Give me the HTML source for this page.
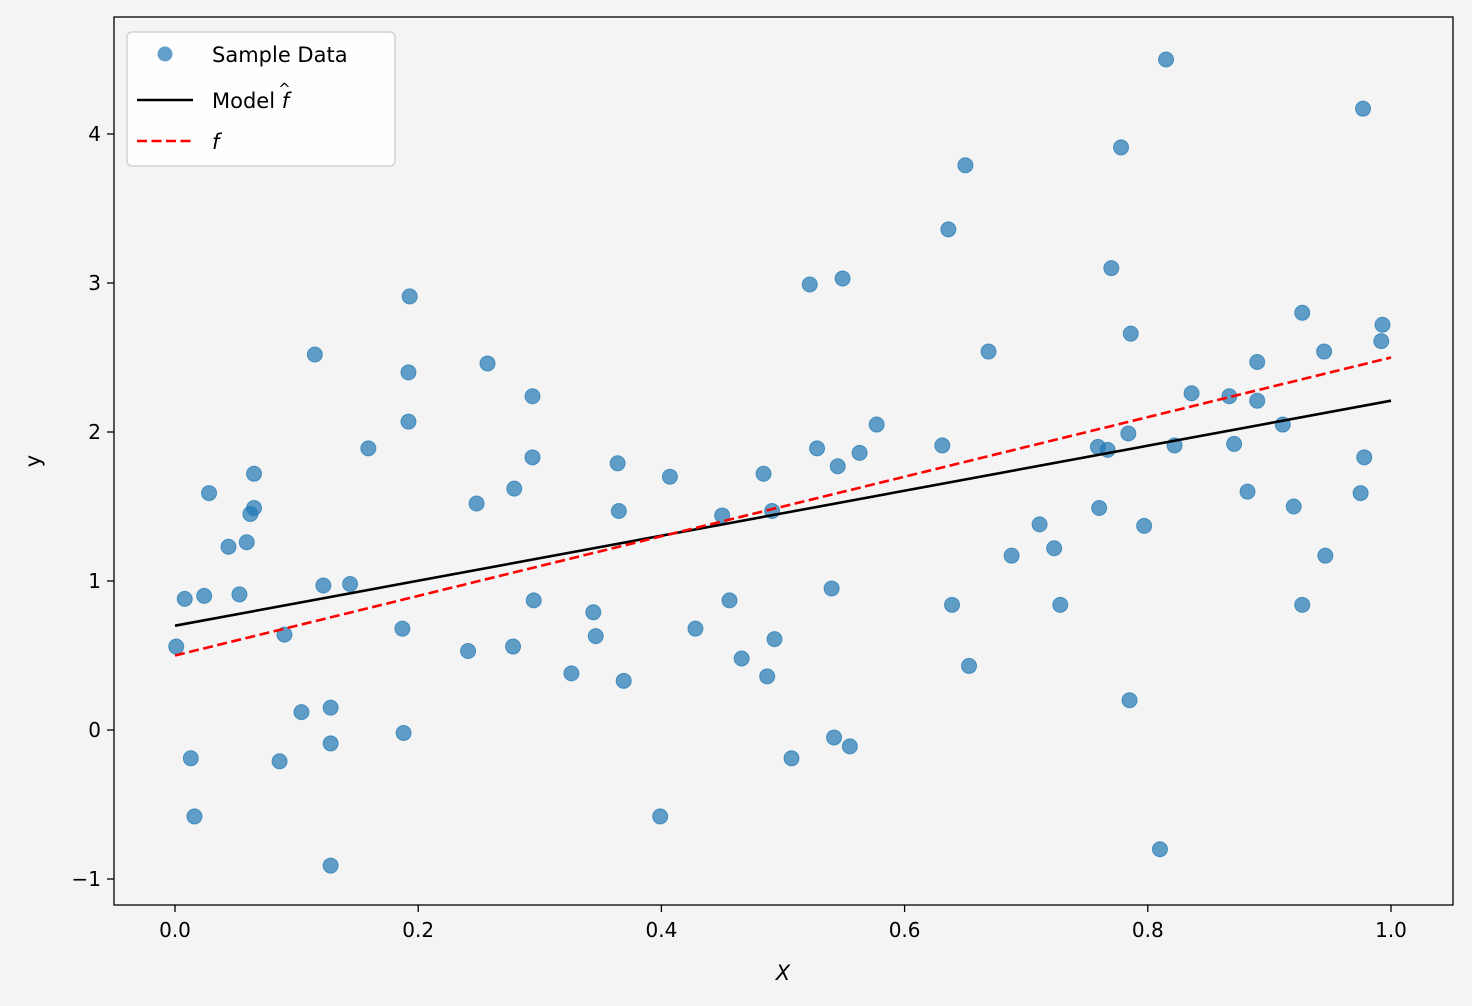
<!DOCTYPE html>
<html><head><meta charset="utf-8"><style>
html,body{margin:0;padding:0;background:#f4f4f4;}
svg{display:block;font-family:"DejaVu Sans","Liberation Sans",sans-serif;}
</style></head><body>
<svg id="chart" width="1472" height="1006" xmlns="http://www.w3.org/2000/svg"></svg>
<script>
const xs=[0.001,0.008,0.013,0.016,0.024,0.028,0.044,0.053,0.059,0.062,0.065,0.065,0.090,0.086,0.104,0.115,0.122,0.128,0.128,0.128,0.144,0.159,0.187,0.188,0.192,0.192,0.193,0.241,0.248,0.257,0.278,0.279,0.294,0.294,0.295,0.326,0.344,0.346,0.364,0.365,0.369,0.399,0.407,0.428,0.450,0.456,0.466,0.484,0.487,0.491,0.493,0.507,0.522,0.528,0.540,0.542,0.545,0.549,0.555,0.563,0.577,0.631,0.636,0.639,0.650,0.653,0.669,0.688,0.711,0.723,0.728,0.759,0.760,0.767,0.770,0.778,0.784,0.785,0.786,0.797,0.810,0.815,0.822,0.836,0.867,0.871,0.882,0.890,0.890,0.911,0.920,0.927,0.927,0.945,0.946,0.975,0.977,0.978,0.992,0.993];
const ys=[0.56,0.88,-0.19,-0.58,0.90,1.59,1.23,0.91,1.26,1.45,1.49,1.72,0.64,-0.21,0.12,2.52,0.97,0.15,-0.09,-0.91,0.98,1.89,0.68,-0.02,2.40,2.07,2.91,0.53,1.52,2.46,0.56,1.62,2.24,1.83,0.87,0.38,0.79,0.63,1.79,1.47,0.33,-0.58,1.70,0.68,1.44,0.87,0.48,1.72,0.36,1.47,0.61,-0.19,2.99,1.89,0.95,-0.05,1.77,3.03,-0.11,1.86,2.05,1.91,3.36,0.84,3.79,0.43,2.54,1.17,1.38,1.22,0.84,1.90,1.49,1.88,3.10,3.91,1.99,0.20,2.66,1.37,-0.80,4.50,1.91,2.26,2.24,1.92,1.60,2.47,2.21,2.05,1.50,2.80,0.84,2.54,1.17,1.59,4.17,1.83,2.61,2.72];
const modelX=[0,1], modelY=[0.70,2.21];
const trueX=[0,1], trueY=[0.5,2.5];
const xTicks=[0,0.2,0.4,0.6,0.8,1.0], xTickLabels=["0.0","0.2","0.4","0.6","0.8","1.0"];
const yTicks=[-1,0,1,2,3,4], yTickLabels=["\u22121","0","1","2","3","4"];

const L=114,R=1453,T=17,B=905;
const sx=v=>175+v*1216, sy=v=>730-v*149;
const svg=document.getElementById('chart');
const NS='http://www.w3.org/2000/svg';
function mk(tag,attrs,parent){const e=document.createElementNS(NS,tag);for(const k in attrs)e.setAttribute(k,attrs[k]);(parent||svg).appendChild(e);return e;}

let r=mk('rect',{x:0,y:0,width:1472,height:1006,fill:'#f4f4f4'});


let ax=mk('rect',{x:L,y:T,width:R-L,height:B-T,fill:'#f4f4f4',stroke:'none'});



const pts=mk('g',{});


xs.forEach((x,i)=>{
  const c=mk('circle',{cx:sx(x),cy:sy(ys[i]),r:7.5,fill:'#1f77b4','fill-opacity':0.7,stroke:'#1f77b4','stroke-opacity':0.7,'stroke-width':1},pts);
  
  
});
let ml=mk('line',{x1:sx(modelX[0]),y1:sy(modelY[0]),x2:sx(modelX[1]),y2:sy(modelY[1]),stroke:'#000','stroke-width':2.6});


let tl=mk('line',{x1:sx(trueX[0]),y1:sy(trueY[0]),x2:sx(trueX[1]),y2:sy(trueY[1]),stroke:'#ff0000','stroke-width':2.6,'stroke-dasharray':'10,4.5'});



let fr=mk('rect',{x:L,y:T,width:R-L,height:B-T,fill:'none',stroke:'#000','stroke-width':1.3});



xTicks.forEach((v,i)=>{
  const x=sx(v);
  const t=mk('line',{x1:x,y1:B,x2:x,y2:B+7,stroke:'#000','stroke-width':1.3});
  
  
  const tx=mk('text',{x:x,y:B+32,'text-anchor':'middle','font-size':20,fill:'#000'});
  tx.textContent=xTickLabels[i];
  
  
});
yTicks.forEach((v,i)=>{
  const y=sy(v);
  const t=mk('line',{x1:L-7,y1:y,x2:L,y2:y,stroke:'#000','stroke-width':1.3});
  
  
  const tx=mk('text',{x:L-13,y:y+7,'text-anchor':'end','font-size':20,fill:'#000'});
  tx.textContent=yTickLabels[i];
  
  
});
let xt=mk('text',{x:783,y:980,'text-anchor':'middle','font-size':21,'font-style':'italic',fill:'#000'});
xt.textContent='X';


let yt=mk('text',{x:40,y:461,'text-anchor':'middle','font-size':21,fill:'#000',transform:'rotate(-90 40 461)'});
yt.textContent='y';



const lg=mk('g',{});


mk('rect',{x:127,y:32,width:268,height:134,rx:5,fill:'#ffffff','fill-opacity':0.85,stroke:'#cccccc','stroke-width':1.3},lg);
let e1=mk('circle',{cx:165,cy:54,r:7.5,fill:'#1f77b4','fill-opacity':0.7},lg);


let t1=mk('text',{x:212,y:62,'font-size':21,fill:'#000'},lg);t1.textContent='Sample Data';


let e2=mk('line',{x1:137,y1:100,x2:193,y2:100,stroke:'#000','stroke-width':2.6},lg);


let t2=mk('text',{x:212,y:108,'font-size':21,fill:'#000'},lg);
t2.innerHTML='Model <tspan font-style="italic">f</tspan><tspan font-size="15" dx="-11" dy="-14">^</tspan>';


let e3=mk('line',{x1:137,y1:141,x2:193,y2:141,stroke:'#ff0000','stroke-width':2.6,'stroke-dasharray':'10,4.5'},lg);


let t3=mk('text',{x:212,y:149,'font-size':21,'font-style':'italic',fill:'#000'},lg);t3.textContent='f';


</script>
</body></html>
